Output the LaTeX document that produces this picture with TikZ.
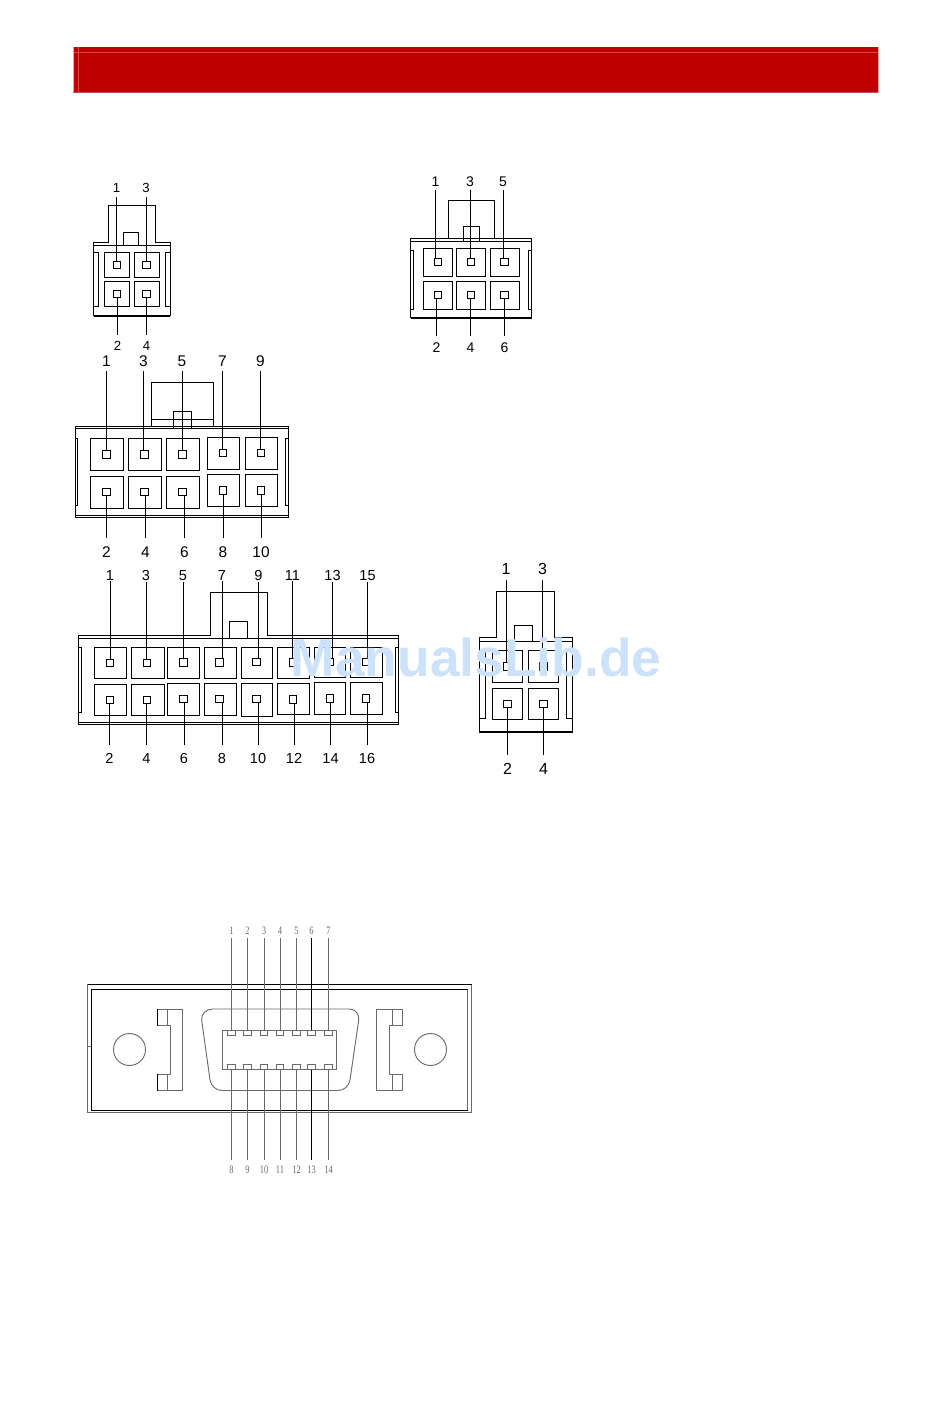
\documentclass[tikz,border=0pt]{standalone}
\usepackage{fontspec}
\setmainfont{Liberation Sans}
\newfontfamily\pinserif[FakeStretch=0.75]{Liberation Serif}
\definecolor{bannerred}{HTML}{C00000}
\definecolor{bannerpink}{HTML}{D64A4A}
\definecolor{bannerpale}{HTML}{EBA5A5}
\definecolor{markblue}{HTML}{CCE1FA}
\definecolor{platedgray}{HTML}{6A6A6A}
\tikzset{
	outline/.style = {black, line width=0.75pt},
	heavyline/.style = {black, line width=1.5pt},
	plated/.style = {platedgray, line width=0.7pt},
	frameline/.style = {black, line width=0.95pt},
	contact/.style = {rectangle, draw=black, line width=0.75pt, inner sep=0pt, minimum size=5.6pt},
	lug/.style = {rectangle, draw=platedgray, line width=0.7pt, inner sep=0pt, minimum width=5.6pt, minimum height=3.4pt},
	numlabel/.style 2 args = {inner xsep=0pt, inner ysep=#2, text=black, font=\fontsize{#1}{#1}\selectfont},
	finelabel/.style = {inner xsep=0pt, inner ysep=#1, text=platedgray, font=\pinserif\fontsize{8.5}{9}\selectfont}
}
% one pin: outer box, then the small contact inside it
\newcommand{\socket}[7]{
	\draw[outline] (#2,#3) rectangle (#4,#5);
	\node[contact] (#1) at (#6,#7) {};
}
% number above or below a contact, with its leader
\newcommand{\pintop}[6]{
	\node[numlabel={#5}{#6}] (l#1) at (#2,#3) {#4};
	\draw[outline] (l#1.south) -- (l#1.south |- #1.north);
}
\newcommand{\pinbot}[6]{
	\node[numlabel={#5}{#6}] (l#1) at (#2,#3) {#4};
	\draw[outline] (l#1.north) -- (l#1.north |- #1.south);
}
\begin{document}
\begin{tikzpicture}[x=0.75pt, y=-0.75pt]
	\useasboundingbox (0, 0) rectangle (950, 1420);
	% banner
	\fill[bannerred] (73, 47) rectangle (878, 93);
	\draw[bannerpink, line width=0.5pt] (73, 52) -- (878, 52) (78, 47) -- (78, 93);
	\draw[bannerpale, line width=0.6pt] (73.3, 47) -- (73.3, 92.7) (878, 47) -- (878, 92.7);
	\draw[bannerpink, line width=0.6pt] (73.3, 92.7) -- (878, 92.7);

	% 4 pin, top left
	\draw[outline] (93.5, 316) -- (93.5, 242) -- (108.5, 242) -- (108.5, 205.5) -- (155.5, 205.5) -- (155.5, 242) -- (170, 242) -- (170, 316);
	\draw[outline] (93.5, 245) -- (170, 245) (123.5, 245) -- (123.5, 232) -- (138.5, 232) -- (138.5, 245);
	\draw[heavyline] (93.5, 316) -- (170, 316);
	\draw[outline] (93.5, 252) -| (98.5, 306) -- (93.5, 306) (170, 252) -| (165.5, 306) -- (170, 306);
	\foreach \n/\lf/\tp/\rg/\bt/\cx/\cy in {1/104.5/252/129.5/277/117/265, 3/134.5/252/159.5/277/146.5/265, 2/104.5/281/129.5/306/117/294, 4/134.5/281/159.5/306/146.5/294}
		{\socket{a\n}{\lf}{\tp}{\rg}{\bt}{\cx}{\cy}}
	\foreach \n/\lx in {1/116.5, 3/146}
		{\pintop{a\n}{\lx}{188}{\n}{9.9}{3.2pt}}
	\foreach \n/\lx in {2/117.5, 4/146.5}
		{\pinbot{a\n}{\lx}{346}{\n}{9.9}{4.7pt}}

	% 6 pin, top right
	\draw[outline] (410.5, 318) -- (410.5, 238.5) -- (448.5, 238.5) -- (448.5, 200.5) -- (494.5, 200.5) -- (494.5, 238.5) -- (531.5, 238.5) -- (531.5, 318);
	\draw[outline] (410.5, 241.5) -- (531.5, 241.5) (448.5, 238.5) -- (494.5, 238.5);
	\draw[outline] (463.5, 241.5) -- (463.5, 226) -- (479.5, 226) -- (479.5, 241.5);
	\draw[heavyline] (410.5, 318) -- (531.5, 318);
	\draw[outline] (410.5, 250) -| (413.5, 309) -- (410.5, 309) (531.5, 250) -| (528.5, 309) -- (531.5, 309);
	\foreach \n/\lf/\tp/\rg/\bt/\cx/\cy in {1/423/248/452.5/276/438/262, 3/456.5/248/485.5/276/471/262, 5/490.5/248/519.5/276/504.5/262, 2/423/281/452.5/309.5/438/295, 4/456.5/281/485.5/309.5/471/295, 6/490.5/281/519.5/309.5/504.5/295}
		{\socket{b\n}{\lf}{\tp}{\rg}{\bt}{\cx}{\cy}}
	\foreach \n/\lx in {1/435.5, 3/470, 5/503}
		{\pintop{b\n}{\lx}{181.5}{\n}{10.5}{2.7pt}}
	\foreach \n/\lx in {2/436.5, 4/470.5, 6/504.5}
		{\pinbot{b\n}{\lx}{348}{\n}{10.5}{5pt}}

	% 10 pin
	\draw[outline] (75.5, 517.5) -- (75.5, 426.5) -- (288.5, 426.5) -- (288.5, 517.5) -- cycle;
	\draw[outline] (75.5, 428) -- (288.5, 428) (75.5, 515.5) -- (288.5, 515.5);
	\draw[outline] (151.5, 426.5) -- (151.5, 382.5) -- (213.5, 382.5) -- (213.5, 426.5) (151.5, 419.5) -- (213.5, 419.5);
	\draw[outline] (173, 428) -- (173, 411) -- (191.5, 411) -- (191.5, 428);
	\draw[outline] (75.5, 438) -| (77.5, 505) -- (75.5, 505) (288.5, 438) -| (285.5, 505) -- (288.5, 505);
	\foreach \n/\lf/\tp/\rg/\bt/\cx/\cy in {1/90.5/438.5/123.5/470/106.5/454.5, 3/128.5/438.5/161.5/470/144.5/454.5, 5/166.5/438.5/199.5/470/182.5/454.5, 7/207.5/437.5/239.5/469/223/453, 9/245.5/437.5/277.5/469/261/453, 2/90.5/476/123.5/508.5/106.5/492, 4/128.5/476/161.5/508.5/144.5/492, 6/166.5/476/199.5/508.5/182.5/492, 8/207.5/474.5/239.5/506.5/223/490.5, 10/245.5/474.5/277.5/506.5/261/490.5}
		{\socket{c\n}{\lf}{\tp}{\rg}{\bt}{\cx}{\cy}}
	\foreach \n/\lx in {1/106.5, 3/143.5, 5/182, 7/222.5, 9/260.5}
		{\pintop{c\n}{\lx}{361.5}{\n}{11.6}{2.8pt}}
	\foreach \n/\lx in {2/106.5, 4/145.5, 6/184.5, 8/223, 10/261}
		{\pinbot{c\n}{\lx}{552}{\n}{11.6}{6.4pt}}

	% 16 pin
	\draw[outline] (78.5, 724.5) -- (78.5, 635) -- (210.5, 635) -- (210.5, 592.5) -- (267.5, 592.5) -- (267.5, 635) -- (398.5, 635) -- (398.5, 724.5) -- cycle;
	\draw[outline] (78.5, 638) -- (398.5, 638) (78.5, 722.5) -- (398.5, 722.5);
	\draw[outline] (229.5, 638) -- (229.5, 621.5) -- (247.5, 621.5) -- (247.5, 638);
	\draw[outline] (78.5, 647) -| (81, 712) -- (78.5, 712) (398.5, 647) -| (395, 712) -- (398.5, 712);
	\foreach \n/\lf/\tp/\rg/\bt/\cx/\cy in {1/94.5/647.5/126.5/678.5/110/663, 3/131.5/647.5/164/678.5/147/663, 5/167.5/647.5/199.5/678.5/183.5/662.5, 7/204/647.5/236.5/678.5/219.5/662.5, 9/241/647/272.5/678.5/256.5/662, 11/277.5/647/309.5/678/293/662.5, 13/314/647/345.5/677.5/330/662, 15/350.5/647/382.5/677.5/366/662, 2/94.5/684/126.5/715.5/110/700, 4/131.5/684/164/715.5/147/700, 6/167.5/683.5/199.5/715/183.5/699, 8/204/683.5/236.5/715/219.5/699, 10/241/683.5/272.5/716/256.5/699, 12/277.5/683/309.5/714.5/293/699.5, 14/314/682/345.5/714/330/698.5, 16/350.5/682/382.5/714/366/698.5}
		{\socket{d\n}{\lf}{\tp}{\rg}{\bt}{\cx}{\cy}}
	\foreach \n/\lx in {1/110, 3/146, 5/183, 7/222, 9/258.5, 11/292.5, 13/332.5, 15/367.5}
		{\pintop{d\n}{\lx}{575.5}{\n}{10.9}{0.5pt}}
	\foreach \n/\lx in {2/109.5, 4/146.5, 6/184, 8/222, 10/258, 12/294, 14/330.5, 16/367}
		{\pinbot{d\n}{\lx}{758}{\n}{10.9}{5.5pt}}

	% 4 pin, right
	\draw[outline] (479, 732) -- (479, 637.5) -- (496.5, 637.5) -- (496.5, 591.5) -- (554.5, 591.5) -- (554.5, 637.5) -- (572.5, 637.5) -- (572.5, 732);
	\draw[outline] (479, 641.5) -- (572.5, 641.5);
	\draw[outline] (514.5, 641.5) -- (514.5, 625.5) -- (532.5, 625.5) -- (532.5, 641.5);
	\draw[heavyline] (479, 732) -- (572.5, 732);
	\draw[outline] (479, 650) -| (485.5, 718) -- (479, 718) (572.5, 650) -| (566.5, 718) -- (572.5, 718);
	\foreach \n/\lf/\tp/\rg/\bt/\cx/\cy in {1/492/650/522.5/682/507/666.5, 3/528/650/558.5/682/543.5/666.5, 2/492/688/522.5/719.5/507.5/704, 4/528/688/558.5/719.5/543.5/704}
		{\socket{e\n}{\lf}{\tp}{\rg}{\bt}{\cx}{\cy}}
	\foreach \n/\lx in {1/506, 3/542.5}
		{\pintop{e\n}{\lx}{569}{\n}{12}{3.9pt}}
	\foreach \n/\lx in {2/507.5, 4/543.5}
		{\pinbot{e\n}{\lx}{769}{\n}{12}{6.2pt}}

	% 14 pin D connector
	\draw[plated] (91.5, 984.5) -- (87.5, 984.5) -- (87.5, 1112.5) -- (471.5, 1112.5) -- (471.5, 984.5);
	\draw[plated] (467.5, 989.5) -- (467.5, 1110.5) (87.5, 1046.5) -- (91.5, 1046.5);
	\draw[frameline] (87.5, 984.5) -- (471.5, 984.5);
	\draw[frameline] (467.5, 989.5) -- (91.5, 989.5) -- (91.5, 1110.5) -- (467.5, 1110.5);
	\draw[plated] (129.5, 1049.5) circle [radius=12pt];
	\draw[plated] (430.5, 1049.5) circle [radius=12pt];
	\draw[plated] (157, 1009) -- (182.5, 1009) -- (182.5, 1090.5) -- (157, 1090.5) -- (157, 1074) -- (170.5, 1074) -- (170.5, 1025.5) -- (157, 1025.5) -- cycle;
	\draw[plated] (167, 1009) -- (167, 1025.5) (167, 1074) -- (167, 1090.5);
	\draw[outline] (157, 1009) -- (157, 1025.5) (157, 1074) -- (157, 1090.5);
	\draw[plated] (376.5, 1009) -- (402.5, 1009) -- (402.5, 1025.5) -- (389.5, 1025.5) -- (389.5, 1074) -- (402.5, 1074) -- (402.5, 1090.5) -- (376.5, 1090.5) -- cycle;
	\draw[plated] (392.5, 1009) -- (392.5, 1025.5) (392.5, 1074) -- (392.5, 1090.5);
	\draw[plated] (213, 1009) -- (349.5, 1009) .. controls (355, 1009) and (359.5, 1014) .. (358.7, 1020) -- (350, 1080) .. controls (349, 1086) and (344, 1090.5) .. (338, 1090.5) -- (222, 1090.5) .. controls (216, 1090.5) and (211, 1086) .. (210, 1080) -- (201.7, 1020) .. controls (201, 1014) and (206, 1009) .. (213, 1009) -- cycle;
	\draw[plated] (222.5, 1030.5) rectangle (336.5, 1069.5);
	\foreach \n/\lx/\cl/\lw in {1/231.5/platedgray/0.7pt, 2/247.5/platedgray/0.7pt, 3/264/platedgray/0.7pt, 4/280/platedgray/0.7pt, 5/296.5/platedgray/0.7pt, 6/311.5/black/0.95pt, 7/328.5/platedgray/0.7pt} {
		\node[lug] (f\n) at (\lx, 1032.8) {};
		\node[finelabel=2.6pt] (lf\n) at (\lx, 930.5) {\n};
		\draw[\cl, line width=\lw] (lf\n.south) -- (f\n.north);
	}
	\foreach \n/\lx/\cl/\lw in {8/231.5/platedgray/0.7pt, 9/247.5/platedgray/0.7pt, 10/264/platedgray/0.7pt, 11/280/platedgray/0.7pt, 12/296.5/platedgray/0.7pt, 13/311.5/black/0.95pt, 14/328.5/platedgray/0.7pt} {
		\node[lug] (f\n) at (\lx, 1067.2) {};
		\node[finelabel=4.5pt] (lf\n) at (\lx, 1170) {\n};
		\draw[\cl, line width=\lw] (lf\n.north) -- (f\n.south);
	}

	% watermark lies over the drawing
	\node[text=markblue, font=\bfseries\fontsize{40}{40}\selectfont, inner sep=0pt] (watermark) at (476, 657) {ManualsLib.de};
\end{tikzpicture}
\end{document}
